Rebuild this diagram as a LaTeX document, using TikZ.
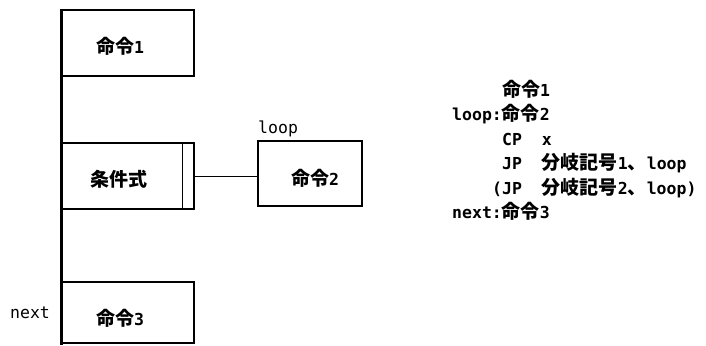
\documentclass[tikz,border=0pt]{standalone}
\usepackage{fontspec}
\setmonofont{DejaVu Sans Mono}
\newfontfamily\jpfont{Noto Sans CJK JP}
\newcommand{\jp}[1]{{\jpfont\bfseries\fontsize{19}{22}\selectfont #1}}

\begin{document}
\begin{tikzpicture}[
    x=1pt,y=-1pt,
    font=\ttfamily\fontsize{16.5}{20}\selectfont,
    kasten/.style={draw,line width=1.5pt,inner sep=0pt},
    inhalt/.style={inner sep=0pt,font=\ttfamily\bfseries\fontsize{16.5}{20}\selectfont},
    marke/.style={inner sep=0pt,anchor=base west},
    zeile/.style={inner sep=0pt,anchor=base west,font=\ttfamily\bfseries\fontsize{16.5}{20}\selectfont},
    stamm/.style={line width=3pt},
    kante/.style={line width=1pt}]

  \useasboundingbox (0,0) rectangle (706,345);

  %% ============================ Flussdiagramm ==============================
  \node[kasten,minimum width=132pt,minimum height=66pt] (befehl1) at (128,43) {};
  \node[kasten,minimum width=132pt,minimum height=66pt] (bedingung) at (128,176) {};
  \node[kasten,minimum width=104pt,minimum height=65pt] (befehl2) at (310,173.5) {};
  \node[kasten,minimum width=132pt,minimum height=61pt] (befehl3) at (128,312.5) {};
  \coordinate (ende) at (62,345);

  \node[inhalt] (t1) at (120,46)    {\jp{命令}1};
  \node[inhalt] (t2) at (119,179)   {\jp{条件式}};
  \node[inhalt] (t3) at (315,178.5) {\jp{命令}2};
  \node[inhalt] (t4) at (120,318.5) {\jp{命令}3};

  \draw[stamm] (befehl1.north west) -- (befehl1.north west |- ende);
  \draw[kante] ([xshift=-12pt]bedingung.north east) -- ([xshift=-12pt]bedingung.south east);
  \draw[kante] (bedingung.east) -- (bedingung.east -| befehl2.west);

  \node[marke] (lloop) at (258,133) {loop};
  \node[marke] (lnext) at (10,318)  {next};

  %% ============================== Programm =================================
  \foreach \n/\x/\y/\t in {
      z1/502/96/{\jp{命令}1},
      z2/452/120.5/{loop:\jp{命令}2},
      z3/502/145/{CP\ \ x},
      z4/502/169.5/{JP\ \ \jp{分岐記号}1\jp{、}loop},
      z5/492/194/{(JP\ \ \jp{分岐記号}2\jp{、}loop)},
      z6/452/218.5/{next:\jp{命令}3}}
    \node[zeile] (\n) at (\x,\y) {\t};

\end{tikzpicture}
\end{document}
